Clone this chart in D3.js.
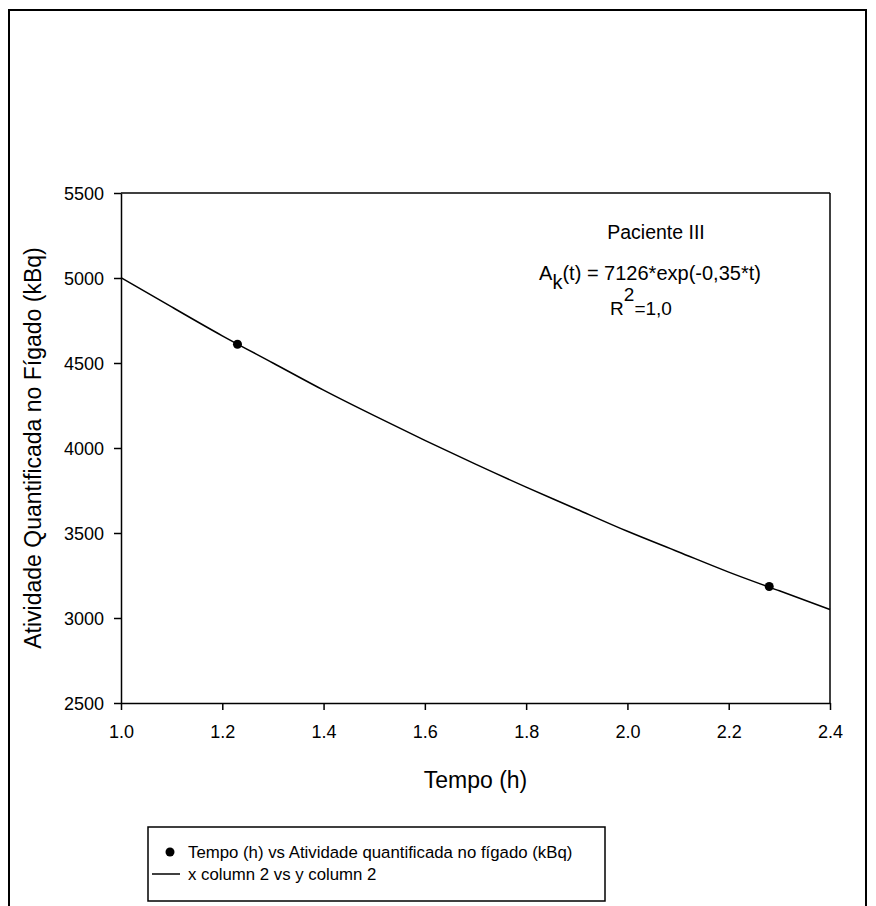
<!DOCTYPE html>
<html>
<head>
<meta charset="utf-8">
<script src="https://cdn.jsdelivr.net/npm/d3@7"></script>
<style>
  html, body { margin: 0; padding: 0; background: #fff; }
  svg text { font-family: "Liberation Sans", Arial, sans-serif; fill: #000; }
</style>
</head>
<body>
<svg id="chart" width="876" height="906"></svg>
<script>
// ---- data ----
const xTicks = [1.0, 1.2, 1.4, 1.6, 1.8, 2.0, 2.2, 2.4];
const yTicks = [2500, 3000, 3500, 4000, 4500, 5000, 5500];
// measured points: Tempo (h) vs Atividade quantificada no fígado (kBq)
const pointT = [1.23, 2.28];
const pointA = [4610, 3185];
// fitted curve: x column 2 vs y column 2
const curveT = [1.0, 1.1, 1.2, 1.3, 1.4, 1.5, 1.6, 1.7, 1.8, 1.9, 2.0, 2.1, 2.2, 2.3, 2.4];
const curveA = [5002, 4830, 4660, 4500, 4340, 4190, 4045, 3905, 3770, 3640, 3510, 3390, 3270, 3160, 3050];
const xTitle = "Tempo (h)";
const yTitle = "Atividade Quantificada no Fígado (kBq)";
const legendLabels = ["Tempo (h) vs Atividade quantificada no fígado (kBq)", "x column 2 vs y column 2"];

const svg = d3.select("#chart");
const L = 121, R = 830, T = 193, B = 703;

// outer frame
svg.append("path")
  .attr("d", "M9,920 L9,10 L866,10 L866,920")
  .attr("fill", "none").attr("stroke", "#000").attr("stroke-width", 2);

const x = d3.scaleLinear().domain([1.0, 2.4]).range([L, R]);
const y = d3.scaleLinear().domain([2500, 5500]).range([B, T]);

// axes
const xAxis = d3.axisBottom(x).tickValues(xTicks).tickFormat(d3.format(".1f")).tickSize(7).tickSizeOuter(0);
const yAxis = d3.axisLeft(y).tickValues(yTicks).tickFormat(d3.format("d")).tickSize(7).tickSizeOuter(0);

const gx = svg.append("g").attr("transform", `translate(0,${B})`).call(xAxis);
const gy = svg.append("g").attr("transform", `translate(${L},0)`).call(yAxis);
[gx, gy].forEach(g => {
  g.select(".domain").attr("stroke", "#000").attr("stroke-width", 1.5);
  g.selectAll(".tick line").attr("stroke", "#000").attr("stroke-width", 1.5);
  g.selectAll(".tick text").attr("font-size", 18).attr("fill", "#000")
    .style("font-family", "'Liberation Sans', Arial, sans-serif");
});
gx.selectAll(".tick text").attr("dy", null).attr("y", 35);
gy.selectAll(".tick text").attr("x", -17).attr("dy", "0.36em");

// top and right frame lines
svg.append("line").attr("x1", L).attr("x2", R).attr("y1", T).attr("y2", T)
  .attr("stroke", "#000").attr("stroke-width", 1.5);
svg.append("line").attr("x1", R).attr("x2", R).attr("y1", T).attr("y2", B)
  .attr("stroke", "#000").attr("stroke-width", 1.5);

// axis titles
svg.append("text").attr("x", (L + R) / 2).attr("y", 788)
  .attr("text-anchor", "middle").attr("font-size", 23).text(xTitle);
svg.append("text").attr("transform", `translate(41,${(T + B) / 2}) rotate(-90)`)
  .attr("text-anchor", "middle").attr("font-size", 23).text(yTitle);

// curve
const curveData = curveT.map((t, i) => ({ t, a: curveA[i] }));
const line = d3.line().x(d => x(d.t)).y(d => y(d.a)).curve(d3.curveNatural);
svg.append("path").datum(curveData).attr("d", line)
  .attr("fill", "none").attr("stroke", "#000").attr("stroke-width", 1.5);

// points
const pts = pointT.map((t, i) => ({ t, a: pointA[i] }));
svg.selectAll("circle.pt").data(pts).enter().append("circle").attr("class", "pt")
  .attr("cx", d => x(d.t)).attr("cy", d => y(d.a)).attr("r", 4.5).attr("fill", "#000");

// annotation
const ann = svg.append("g");
ann.append("text").attr("x", 656).attr("y", 239).attr("text-anchor", "middle")
  .attr("font-size", 19.5).text("Paciente III");
const t2 = ann.append("text").attr("x", 650).attr("y", 280).attr("text-anchor", "middle").attr("font-size", 20);
t2.append("tspan").text("A");
t2.append("tspan").attr("dy", 9).text("k");
t2.append("tspan").attr("dy", -9).text("(t) = 7126*exp(-0,35*t)");
const t3 = ann.append("text").attr("x", 641).attr("y", 315).attr("text-anchor", "middle").attr("font-size", 19);
t3.append("tspan").text("R");
t3.append("tspan").attr("dy", -14).text("2");
t3.append("tspan").attr("dy", 14).text("=1,0");

// legend
const lg = svg.append("g");
lg.append("rect").attr("x", 148).attr("y", 827).attr("width", 457).attr("height", 74)
  .attr("fill", "#fff").attr("stroke", "#000").attr("stroke-width", 1.5);
lg.append("circle").attr("cx", 170).attr("cy", 852).attr("r", 4.5).attr("fill", "#000");
lg.append("line").attr("x1", 152).attr("x2", 180).attr("y1", 874).attr("y2", 874)
  .attr("stroke", "#000").attr("stroke-width", 1.5);
lg.selectAll("text.lg").data(legendLabels).enter().append("text").attr("class", "lg")
  .attr("x", 188).attr("y", (d, i) => 858 + i * 22).attr("font-size", 16.8).text(d => d);
</script>
</body>
</html>
